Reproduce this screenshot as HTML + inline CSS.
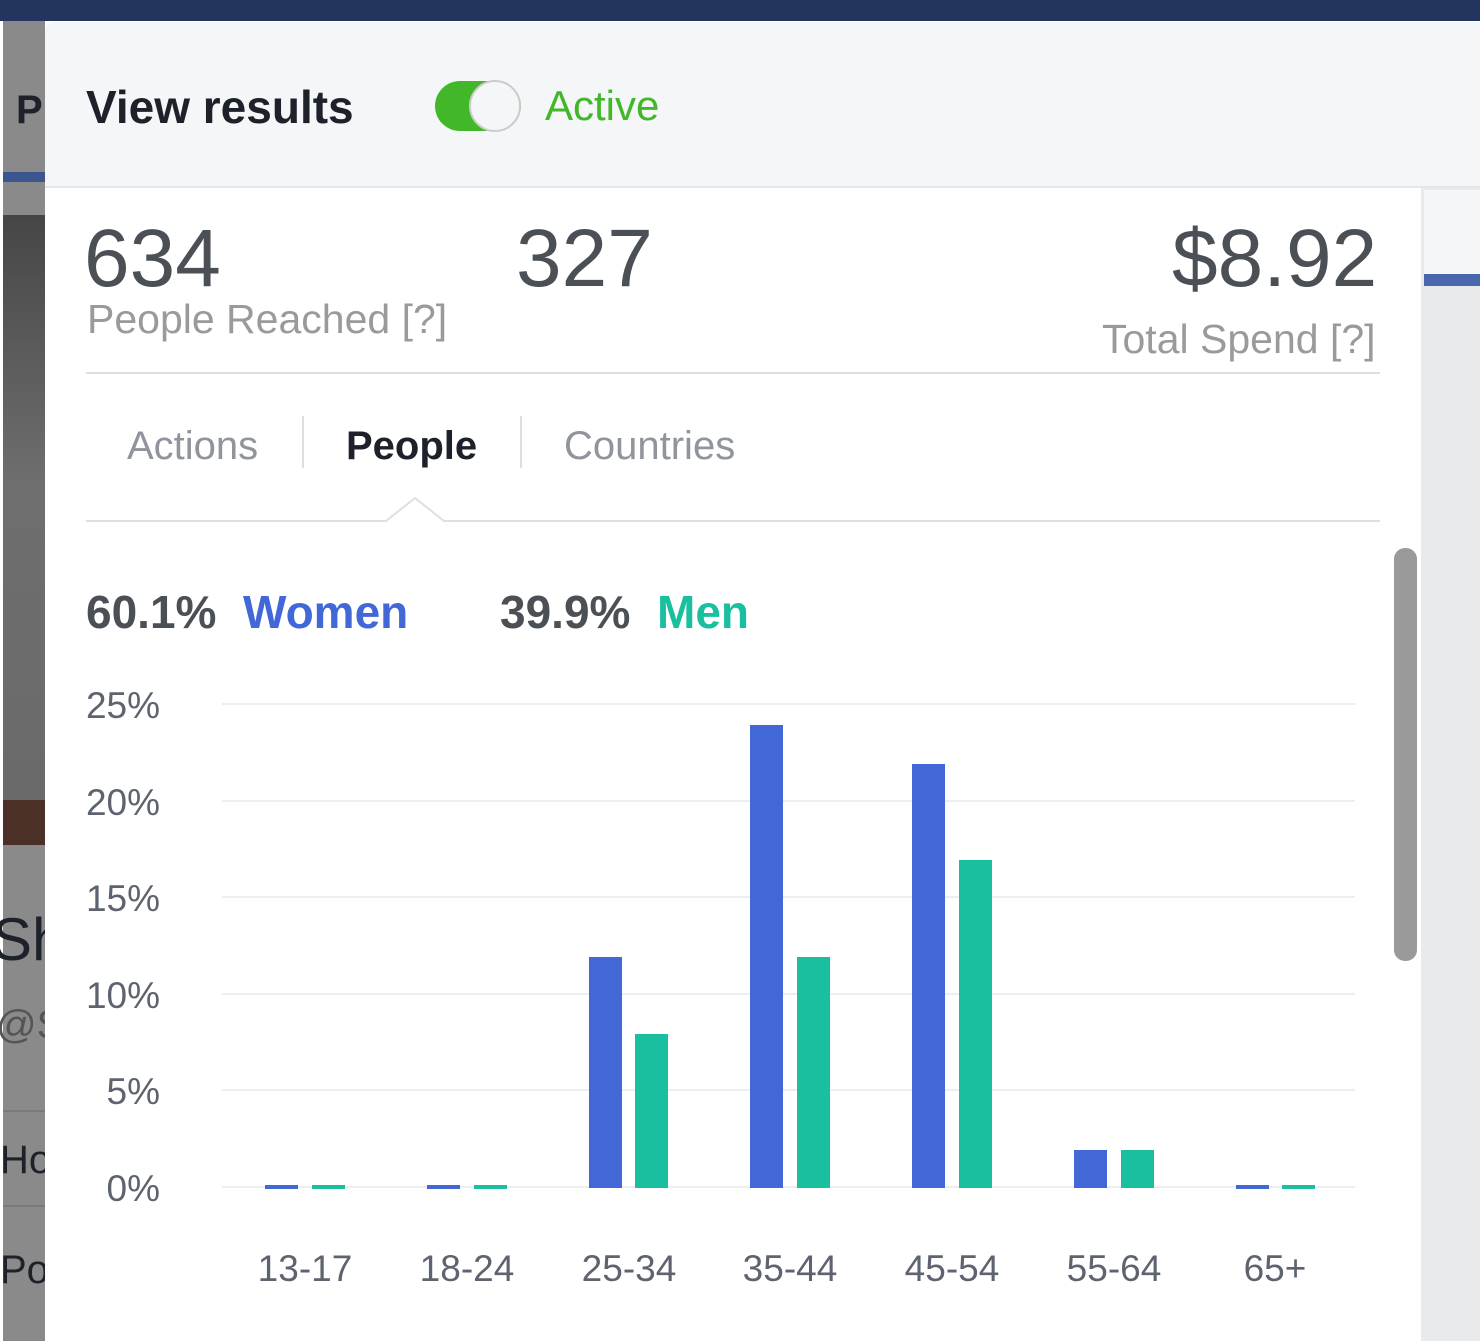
<!DOCTYPE html>
<html><head><meta charset="utf-8"><style>
*{margin:0;padding:0;box-sizing:border-box}
body{width:1480px;height:1341px;position:relative;overflow:hidden;background:#fff;font-family:"Liberation Sans",Arial,sans-serif}
.a{position:absolute}
</style></head><body>
<!-- left backdrop strip -->
<div class="a" style="left:0;top:0;width:1480px;height:21px;background:#23355e"></div>
<div class="a" style="left:3px;top:21px;width:42px;height:1320px;background:#8a8a8a"></div>
<div class="a" style="left:3px;top:172px;width:42px;height:10px;background:#3a5590"></div>
<div class="a" style="left:3px;top:215px;width:42px;height:590px;background:linear-gradient(#464646,#6e6e6e 45%,#6a6a6a)"></div>
<div class="a" style="left:3px;top:800px;width:42px;height:45px;background:#4b3027"></div>
<div class="a" style="left:3px;top:1110px;width:42px;height:2px;background:#7a7a7a"></div>
<div class="a" style="left:3px;top:1205px;width:42px;height:2px;background:#7a7a7a"></div>
<div class="a" style="left:16px;top:88px;font-size:40px;font-weight:bold;color:#1d2129">P</div>
<div class="a" style="left:0;top:910px;width:45px;overflow:hidden;font-size:60px;color:#1d2129;line-height:1"><span style="margin-left:-8px">Sh</span></div>
<div class="a" style="left:0;top:1005px;width:45px;overflow:hidden;font-size:40px;color:#555;line-height:1"><span style="margin-left:-4px">@S</span></div>
<div class="a" style="left:0;top:1140px;width:45px;overflow:hidden;font-size:40px;color:#1d2129;line-height:1">Ho</div>
<div class="a" style="left:0;top:1250px;width:45px;overflow:hidden;font-size:40px;color:#1d2129;line-height:1">Po</div>
<!-- right strip -->
<div class="a" style="left:1421px;top:188px;width:59px;height:1153px;background:#e9eaeb"></div>
<div class="a" style="left:1424px;top:190px;width:56px;height:84px;background:#f5f6f7"></div>
<div class="a" style="left:1424px;top:274px;width:56px;height:12px;background:#4a67ad"></div>
<!-- header -->
<div class="a" style="left:45px;top:22px;width:1435px;height:166px;background:#f5f6f7;border-bottom:2px solid #e5e6e8;border-top-left-radius:8px"></div>
<div class="a" style="left:86px;top:80px;font-size:46px;font-weight:bold;color:#1d2129">View results</div>
<div class="a" style="left:435px;top:81px;width:86px;height:50px;border-radius:25px;background:#42b72a"></div>
<div class="a" style="left:469px;top:80px;width:52px;height:52px;border-radius:26px;background:#f5f6f7;border:2px solid #ccc"></div>
<div class="a" style="left:545px;top:82px;font-size:42px;color:#42b72a">Active</div>
<!-- stats -->
<div class="a" style="left:84px;top:212px;font-size:82px;color:#4b4f56">634</div>
<div class="a" style="left:516px;top:212px;font-size:82px;color:#4b4f56">327</div>
<div class="a" style="left:1172px;top:212px;font-size:82px;color:#4b4f56">$8.92</div>
<div class="a" style="left:87px;top:296px;font-size:41px;color:#9a9a9a">People Reached [?]</div>
<div class="a" style="left:1102px;top:316px;font-size:41px;color:#9a9a9a">Total Spend [?]</div>
<div class="a" style="left:86px;top:372px;width:1294px;height:2px;background:#dddfe2"></div>
<!-- tabs -->
<div class="a" style="left:127px;top:424px;font-size:40px;color:#90949c">Actions</div>
<div class="a" style="left:302px;top:416px;width:2px;height:52px;background:#dddfe2"></div>
<div class="a" style="left:346px;top:424px;font-size:40px;font-weight:bold;color:#1d2129">People</div>
<div class="a" style="left:520px;top:416px;width:2px;height:52px;background:#dddfe2"></div>
<div class="a" style="left:564px;top:424px;font-size:40px;color:#90949c">Countries</div>
<svg class="a" style="left:86px;top:495px" width="1294" height="40">
<polyline points="0,26 300,26 329,3 358,26 1294,26" fill="none" stroke="#dddfe2" stroke-width="2"/>
</svg>
<!-- legend -->
<div class="a" style="left:86px;top:585px;font-size:46px;font-weight:bold;color:#4b4f56">60.1%</div>
<div class="a" style="left:243px;top:585px;font-size:46px;font-weight:bold;color:#4267d6">Women</div>
<div class="a" style="left:500px;top:585px;font-size:46px;font-weight:bold;color:#4b4f56">39.9%</div>
<div class="a" style="left:657px;top:585px;font-size:46px;font-weight:bold;color:#19bf9f">Men</div>
<!-- chart -->
<svg class="a" style="left:0;top:0" width="1480" height="1341" font-family="Liberation Sans, Arial, sans-serif">
<g stroke="#eceeef" stroke-width="2">
<line x1="222" x2="1355" y1="704" y2="704"/><line x1="222" x2="1355" y1="801" y2="801"/>
<line x1="222" x2="1355" y1="897" y2="897"/><line x1="222" x2="1355" y1="994" y2="994"/>
<line x1="222" x2="1355" y1="1090" y2="1090"/><line x1="222" x2="1355" y1="1187" y2="1187"/>
</g>
<g font-size="37" fill="#5d6470" text-anchor="end">
<text x="160" y="718">25%</text><text x="160" y="815">20%</text><text x="160" y="911">15%</text>
<text x="160" y="1008">10%</text><text x="160" y="1104">5%</text><text x="160" y="1201">0%</text>
</g>
<g fill="#4267d6">
<rect x="265" y="1185" width="33" height="4"/><rect x="427" y="1185" width="33" height="4"/>
<rect x="589" y="957" width="33" height="231"/><rect x="750" y="725" width="33" height="463"/>
<rect x="912" y="764" width="33" height="424"/><rect x="1074" y="1150" width="33" height="38"/>
<rect x="1236" y="1185" width="33" height="4"/>
</g>
<g fill="#19bf9f">
<rect x="312" y="1185" width="33" height="4"/><rect x="474" y="1185" width="33" height="4"/>
<rect x="635" y="1034" width="33" height="154"/><rect x="797" y="957" width="33" height="231"/>
<rect x="959" y="860" width="33" height="328"/><rect x="1121" y="1150" width="33" height="38"/>
<rect x="1282" y="1185" width="33" height="4"/>
</g>
<g font-size="37" fill="#5d6470" text-anchor="middle">
<text x="305" y="1281">13-17</text><text x="467" y="1281">18-24</text><text x="629" y="1281">25-34</text>
<text x="790" y="1281">35-44</text><text x="952" y="1281">45-54</text><text x="1114" y="1281">55-64</text>
<text x="1275" y="1281">65+</text>
</g>
<rect x="1394" y="548" width="23" height="413" rx="11" fill="#9a9a9a"/>
</svg>
</body></html>
